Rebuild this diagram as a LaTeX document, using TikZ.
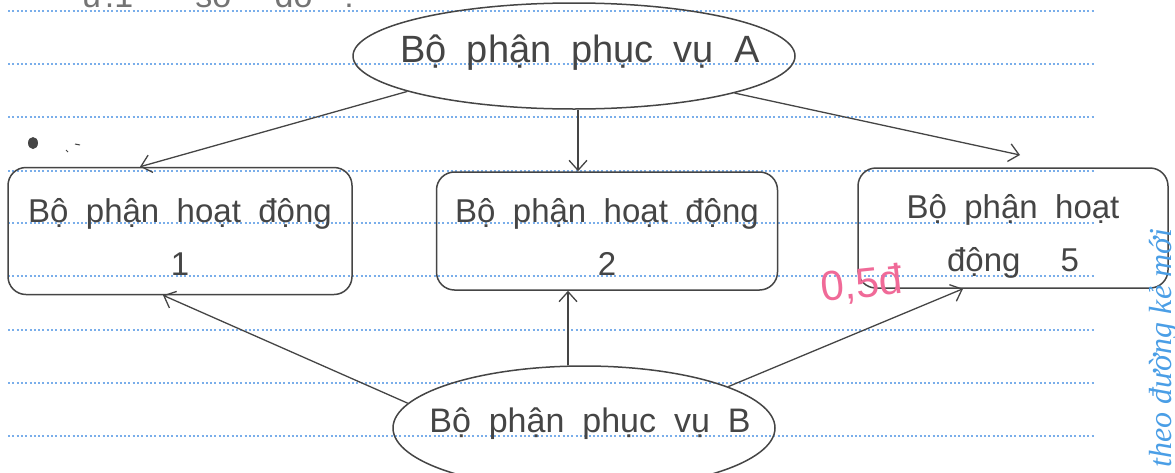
\documentclass[tikz,border=0pt]{standalone}
\usepackage{fontspec}
\setmainfont{Liberation Sans}
\newfontfamily\hand[WordSpace=1.9]{Liberation Sans}
\newfontfamily\penfont{Liberation Serif}
\usetikzlibrary{shapes.geometric,arrows.meta}
\definecolor{ruled}{HTML}{7AAEEA}
\definecolor{ink}{HTML}{454545}
\definecolor{marker}{HTML}{F06A98}
\definecolor{bluepen}{HTML}{4A9EE6}
\newcommand{\zerotext}[2]{\makebox[0pt]{\raisebox{#1}[0pt][0pt]{#2}}}
\tikzset{
  ell/.style={ellipse, draw=ink, line width=1.5pt, text=ink, inner sep=0pt},
  box/.style={rectangle, rounded corners=18pt, draw=ink, line width=1.5pt, text=ink, align=center, font=\hand\fontsize{33}{53}\selectfont, inner sep=0pt},
  arr/.style={draw=ink, line width=1.3pt, -{Straight Barb[length=10pt,width=18pt]}},
  rule/.style={ruled, line width=2pt, dash pattern=on 2pt off 2.3pt}
}
\begin{document}
\begin{tikzpicture}[x=1pt,y=-1pt]
\useasboundingbox[fill=white] (0,0) rectangle (1175,472);
\clip (0,0) rectangle (1175,472);
\foreach \y in {11,64,117,171,223,276,330,383,436}
  \draw[rule] (8,\y) -- (1095,\y);
\node[text=ink!75, font=\fontsize{34}{36}\selectfont, anchor=base west, inner sep=0pt] (head) at (82,7) {ư.1\hspace{62pt}sơ\hspace{40pt}đồ\hspace{32pt}:};
\fill[ink] (33,143) ellipse (5pt and 6pt);
\draw[ink, line width=1pt] (75,144) -- (80,145) (66,150) -- (68,152);
\node[ell, minimum width=442pt, minimum height=106pt, font=\hand\fontsize{38}{40}\selectfont] (A) at (574,56) {\zerotext{-6pt}{\hspace{12pt}Bộ phận phục vụ A}};
\node[box, minimum width=344pt, minimum height=127pt] (H1) at (180,231) {\rule{0pt}{35pt}Bộ phận hoạt động\\1\hspace{18pt}};
\node[box, minimum width=341pt, minimum height=118pt] (H2) at (607,231) {\rule{0pt}{35pt}Bộ phận hoạt động\\2\hspace{18pt}};
\node[box, minimum width=310pt, minimum height=120pt] (H3) at (1013,228) {\rule{0pt}{40pt}Bộ phận hoạt\\động\hspace{40pt}5};
\node[ell, minimum width=382pt, minimum height=124pt, font=\hand\fontsize{34}{40}\selectfont] (B) at (584,428) {\zerotext{-4pt}{\hspace{12pt}Bộ phận phục vụ B}};
\coordinate (t3) at (1020,155);
\draw[arr] (A.192) -- ([xshift=-40pt]H1.north);
\draw[arr] ([xshift=4pt]A.south) -- ([xshift=-29pt]H2.north);
\draw[arr] (A.-13) -- (t3);
\draw[arr] (B.172) -- ([xshift=-17pt]H1.south);
\draw[arr] ([xshift=-16pt]B.north) -- ([xshift=-39pt]H2.south);
\draw[arr] (B.16) -- ([xshift=-50pt]H3.south);
\node[text=marker, font=\fontsize{42}{44}\selectfont, rotate=6] (mark) at (862,285) {0,5đ};
\node[text=bluepen, font=\penfont\itshape\fontsize{32}{34}\selectfont, rotate=90, anchor=base west, inner sep=0pt] (note) at (1171,468) {theo đường kẻ mới};
\end{tikzpicture}
\end{document}
